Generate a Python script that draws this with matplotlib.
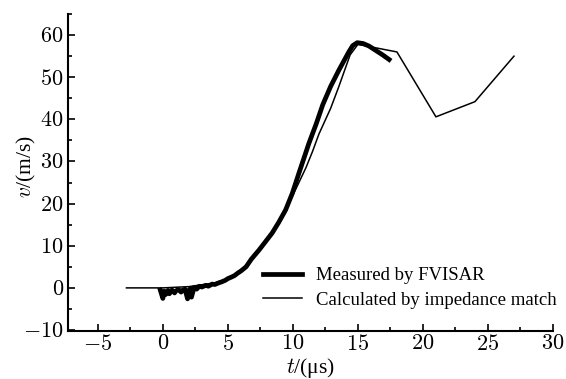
import matplotlib
matplotlib.use("Agg")
import matplotlib.pyplot as plt
from matplotlib.ticker import MultipleLocator, FuncFormatter

plt.rcParams['font.family'] = ['Liberation Serif', 'DejaVu Serif']
plt.rcParams['mathtext.fontset'] = 'cm'

# measured by FVISAR (t in us, v in m/s)
t_meas = [-0.2, 0.0, 0.1, 0.2, 0.4, 0.5, 0.7, 0.9, 1.0, 1.2, 1.4, 1.5, 1.7, 1.9, 2.0, 2.1,
          2.2, 2.4, 2.6, 2.8, 3.0, 3.3, 3.5, 3.8, 4.0, 4.3, 4.5, 4.8, 5.0, 5.3, 5.5, 5.8,
          6.0, 6.4, 6.8, 7.4, 7.9, 8.4, 8.9, 9.44, 9.95, 10.46, 11.23, 11.8, 12.3, 12.9,
          13.54, 14.0, 14.3, 14.6, 14.95, 15.4, 15.85, 16.3, 16.9, 17.4]
v_meas = [-0.5, -2.5, -0.8, -1.6, -0.6, -1.4, -0.5, -1.2, -0.7, -0.4, -1.0, -0.6, -0.3, -2.6, -0.6, -0.2,
          -2.2, 0.1, -0.3, 0.4, 0.2, 0.6, 0.4, 0.9, 0.8, 1.2, 1.4, 1.8, 2.2, 2.6, 2.9, 3.6,
          4.0, 5.0, 6.8, 9.0, 11.0, 13.0, 15.5, 18.5, 22.4, 27.2, 34.3, 39.0, 43.5, 47.8,
          51.7, 54.3, 56.0, 57.5, 58.2, 58.0, 57.4, 56.5, 55.3, 54.2]

# calculated by impedance match
t_calc = [-2.8, 0.0, 2.0, 4.0, 5.0, 6.0, 7.0, 8.0, 9.0, 10.0, 11.0, 11.5, 12.0, 12.9,
          13.5, 14.4, 15.0, 18.0, 21.0, 24.0, 27.0]
v_calc = [0.0, 0.0, 0.3, 1.2, 2.2, 4.0, 7.5, 11.2, 16.0, 22.0, 28.5, 32.3, 36.5, 42.6,
          47.5, 55.3, 57.8, 56.0, 40.6, 44.2, 55.0]

fig = plt.figure(figsize=(5.66, 3.79), dpi=100)
ax = fig.add_axes([0.120, 0.127, 0.857, 0.836])

ax.plot(t_meas, v_meas, color='black', lw=3.4, solid_joinstyle='round',
        label='Measured by FVISAR')
ax.plot(t_calc, v_calc, color='black', lw=1.1, label='Calculated by impedance match')

ax.set_xlim(-7.3, 30)
ax.set_ylim(-10.2, 65)
ax.xaxis.set_major_locator(MultipleLocator(5))
ax.xaxis.set_minor_locator(MultipleLocator(2.5))
ax.yaxis.set_major_locator(MultipleLocator(10))
ax.yaxis.set_minor_locator(MultipleLocator(5))
fmt = FuncFormatter(lambda v, p: r'$%d$' % v)
ax.xaxis.set_major_formatter(fmt)
ax.yaxis.set_major_formatter(fmt)
ax.tick_params(which='both', direction='in', labelsize=16, width=1.2, pad=3)
ax.tick_params(which='major', length=5)
ax.tick_params(which='minor', length=3)

for s in ['top', 'right']:
    ax.spines[s].set_visible(False)
for s in ['left', 'bottom']:
    ax.spines[s].set_linewidth(1.5)

ax.set_xlabel(r'$t$/(μs)', fontsize=15.5, labelpad=1)
ax.set_ylabel(r'$v$/(m/s)', fontsize=15.5)
ax.yaxis.set_label_coords(-0.062, 0.52)

leg = ax.legend(loc='lower left', bbox_to_anchor=(263 / 566, (379 - 309) / 379),
                bbox_transform=fig.transFigure, frameon=False, fontsize=13.5,
                handlelength=2.1, handletextpad=0.7, borderpad=0, borderaxespad=0,
                labelspacing=0.4)

fig.savefig('out.png', dpi=100)
